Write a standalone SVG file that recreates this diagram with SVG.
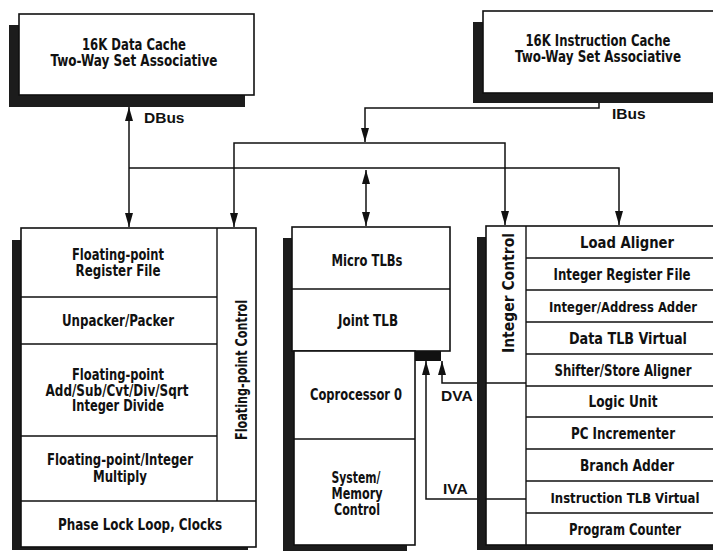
<svg xmlns="http://www.w3.org/2000/svg" width="713" height="551" viewBox="0 0 713 551">
<style>
.bg{fill:#fff}
.box{fill:#fff;stroke:#111;stroke-width:1.6}
.ln{fill:none;stroke:#111;stroke-width:1.4}
.sh{fill:#1c1c1c}
.c{stroke:#111;stroke-width:1.5;fill:none}
.t{font-family:"Liberation Sans Narrow","DejaVu Sans Condensed","Liberation Sans",sans-serif;font-weight:bold;font-size:15px;text-anchor:middle;fill:#111}
.s{font-size:15px}
.n{font-size:14px}
.lb{font-family:"Liberation Sans","Arial",sans-serif;font-weight:bold;font-size:15.5px;fill:#111}
</style>
<defs>
<marker id="ah" viewBox="0 0 14 8" refX="14" refY="4" markerWidth="14" markerHeight="8" markerUnits="userSpaceOnUse" orient="auto-start-reverse">
<path d="M0,0 L14,4 L0,8 z" fill="#111"/>
</marker>
</defs>
<rect class="bg" x="0" y="0" width="713" height="551"/>

<g id="dcache">
<rect class="sh" x="9" y="25" width="236" height="82"/>
<rect class="box" x="19" y="14" width="235" height="81"/>
<text class="t" x="134" y="50" textLength="104" lengthAdjust="spacingAndGlyphs">16K Data Cache</text>
<text class="t" x="134" y="66" textLength="167" lengthAdjust="spacingAndGlyphs">Two-Way Set Associative</text>
</g>

<g id="icache">
<rect class="sh" x="473" y="22" width="250" height="81"/>
<rect class="box" x="483" y="11" width="240" height="82"/>
<text class="t" x="598" y="46" textLength="145" lengthAdjust="spacingAndGlyphs">16K Instruction Cache</text>
<text class="t" x="598" y="62" textLength="166" lengthAdjust="spacingAndGlyphs">Two-Way Set Associative</text>
</g>

<g id="fpu">
<rect class="sh" x="12" y="240" width="236" height="310"/>
<rect class="box" x="21" y="228" width="235" height="319"/>
<path class="ln" d="M217,228 V501 M21,297 H217 M21,344 H217 M21,436 H217 M21,501 H256"/>
<text class="t" x="118" y="260" textLength="92" lengthAdjust="spacingAndGlyphs">Floating-point</text>
<text class="t" x="118" y="276" textLength="85" lengthAdjust="spacingAndGlyphs">Register File</text>
<text class="t" x="118" y="326" textLength="112" lengthAdjust="spacingAndGlyphs">Unpacker/Packer</text>
<text class="t" x="118" y="380" textLength="92" lengthAdjust="spacingAndGlyphs">Floating-point</text>
<text class="t" x="117" y="396" textLength="143" lengthAdjust="spacingAndGlyphs">Add/Sub/Cvt/Div/Sqrt</text>
<text class="t" x="118" y="411" textLength="92" lengthAdjust="spacingAndGlyphs">Integer Divide</text>
<text class="t" x="120" y="465" textLength="146" lengthAdjust="spacingAndGlyphs">Floating-point/Integer</text>
<text class="t" x="120" y="482" textLength="54" lengthAdjust="spacingAndGlyphs">Multiply</text>
<text class="t" x="140" y="530" textLength="164" lengthAdjust="spacingAndGlyphs">Phase Lock Loop, Clocks</text>
<text class="t" style="font-size:16px" transform="translate(247,370) rotate(-90)" x="0" y="0" textLength="140" lengthAdjust="spacingAndGlyphs">Floating-point Control</text>
</g>

<g id="mmu">
<rect class="sh" x="283" y="238" width="124" height="313"/>
<rect class="box" x="292" y="227" width="158" height="124"/>
<path class="ln" d="M292,289 H450"/>
<rect class="box" x="294" y="351" width="121" height="194"/>
<path class="ln" d="M294,439 H415"/>
<rect x="415" y="351" width="26" height="10" fill="#111"/>
<text class="t" x="367" y="266" textLength="71" lengthAdjust="spacingAndGlyphs">Micro TLBs</text>
<text class="t" x="368" y="326" textLength="60" lengthAdjust="spacingAndGlyphs">Joint TLB</text>
<text class="t" x="356" y="400" textLength="92" lengthAdjust="spacingAndGlyphs">Coprocessor 0</text>
<text class="t" x="356" y="483" textLength="49" lengthAdjust="spacingAndGlyphs">System/</text>
<text class="t" x="357" y="499" textLength="51" lengthAdjust="spacingAndGlyphs">Memory</text>
<text class="t" x="357" y="515" textLength="46" lengthAdjust="spacingAndGlyphs">Control</text>
</g>

<g id="iu">
<rect class="sh" x="477" y="237" width="250" height="313"/>
<rect class="box" x="486" y="226" width="240" height="319"/>
<path class="ln" d="M526,226 V545 M486,383 H526 M486,499 H526 M526,258 H726 M526,290 H726 M526,322 H726 M526,354 H726 M526,386 H726 M526,417 H726 M526,449 H726 M526,481 H726 M526,513 H726"/>
<text class="t" x="627" y="248" textLength="94" lengthAdjust="spacingAndGlyphs">Load Aligner</text>
<text class="t" x="622" y="280" textLength="137" lengthAdjust="spacingAndGlyphs">Integer Register File</text>
<text class="t n" x="623" y="312" textLength="148" lengthAdjust="spacingAndGlyphs">Integer/Address Adder</text>
<text class="t" x="628" y="344" textLength="118" lengthAdjust="spacingAndGlyphs">Data TLB Virtual</text>
<text class="t" x="623" y="376" textLength="137" lengthAdjust="spacingAndGlyphs">Shifter/Store Aligner</text>
<text class="t" x="623" y="407" textLength="69" lengthAdjust="spacingAndGlyphs">Logic Unit</text>
<text class="t" x="623" y="439" textLength="104" lengthAdjust="spacingAndGlyphs">PC Incrementer</text>
<text class="t" x="627" y="471" textLength="94" lengthAdjust="spacingAndGlyphs">Branch Adder</text>
<text class="t n" x="625" y="503" textLength="149" lengthAdjust="spacingAndGlyphs">Instruction TLB Virtual</text>
<text class="t" x="625" y="535" textLength="112" lengthAdjust="spacingAndGlyphs">Program Counter</text>
<text class="t" style="font-size:16px" transform="translate(514,293) rotate(-90)" x="0" y="0" textLength="120" lengthAdjust="spacingAndGlyphs">Integer Control</text>
</g>

<g id="connectors">
<path class="c" d="M129,107 V227" marker-start="url(#ah)" marker-end="url(#ah)"/>
<path class="c" d="M129,168 H619 V225" marker-end="url(#ah)"/>
<path class="c" d="M366,170 V226" marker-start="url(#ah)" marker-end="url(#ah)"/>
<path class="c" d="M366,143 H234 V227" marker-end="url(#ah)"/>
<path class="c" d="M366,143 H505 V225" marker-end="url(#ah)"/>
<path class="c" d="M599,103 V108 H365 V142" marker-end="url(#ah)"/>
<path class="c" d="M477,383 H442 V361" marker-end="url(#ah)"/>
<path class="c" d="M477,499 H426 V361" marker-end="url(#ah)"/>
<text class="lb" x="144" y="123">DBus</text>
<text class="lb" x="612" y="119">IBus</text>
<text class="lb" x="441" y="401">DVA</text>
<text class="lb" x="443" y="494">IVA</text>
</g>
</svg>
